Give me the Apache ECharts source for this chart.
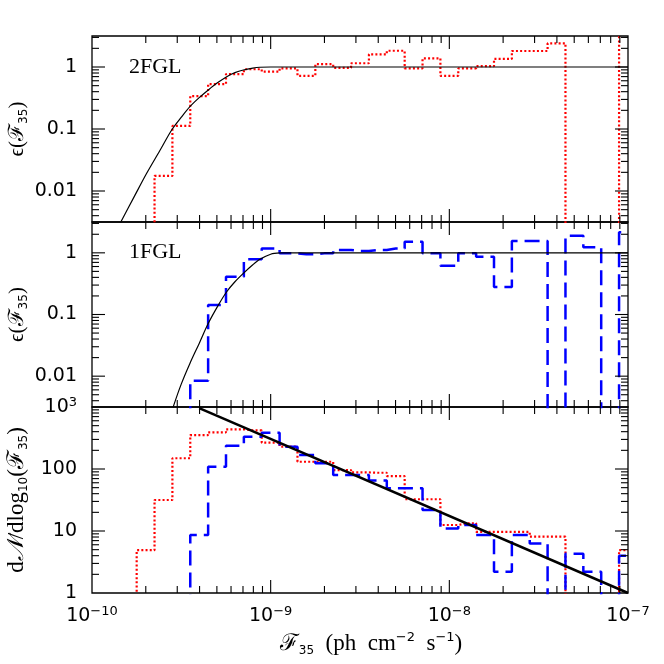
<!DOCTYPE html>
<html><head><meta charset="utf-8">
<script src="https://cdn.jsdelivr.net/npm/echarts@6/dist/echarts.min.js"></script>
<style>html,body{margin:0;padding:0;background:#fff}#c{width:664px;height:664px}</style>
</head><body><div id="c"></div>
<script>
// ---- data ----
// bin centres: log10 of flux F35 (ph cm^-2 s^-1), bins 0.1 dex wide
const logFluxBins = [-9.8,-9.7,-9.6,-9.5,-9.4,-9.3,-9.2,-9.1,-9.0,-8.9,-8.8,-8.7,-8.6,-8.5,-8.4,-8.3,-8.2,-8.1,-8.0,-7.9,-7.8,-7.7,-7.6,-7.5,-7.4,-7.3,-7.2,-7.1,-7.0];
// detection efficiency histograms
const eff2FGL = [0,0,0.0175,0.112,0.34,0.53,0.77,0.92,0.84,0.95,0.72,1.11,0.97,1.15,1.60,1.83,0.95,1.38,0.72,0.95,1.03,1.35,1.81,1.81,2.41,0,0,0,5];
const eff1FGL = [0,0,0,0,0.0084,0.143,0.41,0.785,1.18,0.98,0.95,0.98,1.11,1.07,1.11,1.18,1.51,0.98,0.62,0.98,0.86,0.28,1.55,1.55,0,1.89,1.23,0,2.15];
// source counts dN/dlog10(F35)
const counts2FGL = [0,4.9,31.6,149,353,391,437,420,266,229,131,131,96,88,87,77,32.5,32.5,12.5,13.3,9.7,9.7,9.7,8.1,8.1,0,0,0,4.9];
const counts1FGL = [0,0,0,0,8.6,109,238,332,385,229,168,124,80,80,65,49,49,21.8,11,12.5,8.6,2.2,8.6,6.3,0,4.3,2.2,0,4];
// smooth efficiency model curves
const model2FGL_logFlux = [-9.9,-9.838,-9.76,-9.694,-9.62,-9.554,-9.5,-9.452,-9.4,-9.349,-9.3,-9.246,-9.2,-9.153,-9.1,-9.06,-9.0,-8.9,-7.0];
const model2FGL_eff     = [0.0015,0.0032,0.0085,0.0193,0.045,0.0964,0.155,0.229,0.32,0.426,0.55,0.698,0.81,0.895,0.96,0.99,1.0,1.0,1.0];
const model1FGL_logFlux = [-9.6,-9.545,-9.5,-9.452,-9.4,-9.349,-9.293,-9.246,-9.2,-9.153,-9.1,-9.06,-9.0,-8.947,-8.9,-7.0];
const model1FGL_eff     = [0.001,0.0032,0.0075,0.0161,0.034,0.072,0.142,0.234,0.34,0.465,0.64,0.785,0.95,0.995,1.0,1.0];
// power-law fit to counts
const fit_logFlux = [-9.4,-7.0];
const fit_counts  = [960,1.0];
// axis ticks
const xTickExps = [-10,-9,-8,-7];
const effTicks = [0.01,0.1,1];
const effTickLabels = ['0.01','0.1','1'];
const countTicks = [1,10,100,1000];
const countTickLabels = ['1','10','100','{b|10}{s|3}'];
const panelTags = ['2FGL','1FGL'];

// ---- build ----
const L10 = Math.log10;
const FLOOR = 1e-6;
const hist = (vals) => logFluxBins.map((x,i)=>[x, L10(Math.max(vals[i],FLOOR))]);
const curve = (xs, ys) => xs.map((x,i)=>[x, L10(ys[i])]);

const sans = "'DejaVu Sans', sans-serif";
const serif = "'Liberation Serif','DejaVu Serif',serif";

const gridDefs = [
  {left:92, right:36, top:36, height:186},
  {left:92, right:36, top:222, height:185},
  {left:92, right:36, top:407, height:186}
];
const yRanges = [[-2.5,0.5,0.5],[-2.5,0.5,0.5],[0,3,1]];

function minorList(nFrom, nTo, lo, hi){
  const out=[];
  for(let n=nFrom;n<=nTo;n++) for(let k=2;k<=9;k++){const v=n+L10(k); if(v>lo+1e-9 && v<hi-1e-9) out.push(v);}
  return out;
}
function tickData(gi){
  const [ylo,yhi] = yRanges[gi];
  const d=[];
  minorList(-10,-8,-10,-7).forEach(v=>d.push([v, ylo, 0, 7]));
  xTickExps.forEach(v=>{ if(v>-10 && v<-7) d.push([v, ylo, 0, 13]); });
  minorList(Math.floor(ylo)-1, Math.ceil(yhi), ylo, yhi).forEach(v=>d.push([-10, v, 1, 7]));
  for(let v=Math.ceil(ylo); v<=Math.floor(yhi); v++){ if(v>ylo && v<yhi) d.push([-10, v, 1, 13]); }
  return d;
}
function tickRender(params, api){
  const cs = params.coordSys;
  const p = api.coord([api.value(0), api.value(1)]);
  const kind = api.value(2), len = api.value(3);
  const st = {stroke:'#000', lineWidth:1.1};
  if(kind===0){
    const x=p[0], b=cs.y+cs.height, t=cs.y;
    return {type:'group', children:[
      {type:'line', shape:{x1:x,y1:b,x2:x,y2:b-len}, style:st},
      {type:'line', shape:{x1:x,y1:t,x2:x,y2:t+len}, style:st}]};
  } else {
    const y=p[1], l=cs.x, r=cs.x+cs.width;
    return {type:'group', children:[
      {type:'line', shape:{x1:l,y1:y,x2:l+len,y2:y}, style:st},
      {type:'line', shape:{x1:r,y1:y,x2:r-len,y2:y}, style:st}]};
  }
}

function nameStyleOf(fs, pad){
  return {fontFamily:serif, fontSize:fs, color:'#000', lineHeight:26, padding:pad||0, rich:{
    sub:{fontSize:12, fontFamily:sans, verticalAlign:'bottom', lineHeight:10, color:'#000'},
    sup:{fontSize:13, fontFamily:sans, verticalAlign:'top', lineHeight:14, color:'#000'},
    cal:{fontSize:fs, fontFamily:serif, fontStyle:'italic', color:'#000'}}};
}

const xAxes = gridDefs.map((g,i)=>({
  type:'value', gridIndex:i, min:-10, max:-7, interval:1,
  axisLine:{show:false}, axisTick:{show:false}, splitLine:{show:false},
  axisLabel:{show:i===2, margin:12, showMinLabel:true, showMaxLabel:true,
    formatter:(v)=>'{b|10}{s|−'+Math.abs(Math.round(v))+'}',
    rich:{b:{fontSize:19, fontFamily:sans, color:'#000', lineHeight:22}, s:{fontSize:13, fontFamily:sans, color:'#000', verticalAlign:'top', lineHeight:14}}},
  name: i===2 ? 'ℱ{sub|35}  (ph  cm{sup|−2}  s{sup|−1})' : '',
  nameLocation:'middle', nameGap:38, nameMoveOverlap:false, nameTextStyle:nameStyleOf(23, [0,0,0,22])
}));

function effFmt(v){
  for(let k=0;k<effTicks.length;k++) if(Math.abs(v-L10(effTicks[k]))<1e-6) return effTickLabels[k];
  return '';
}
function cntFmt(v){
  for(let k=0;k<countTicks.length;k++) if(Math.abs(v-L10(countTicks[k]))<1e-6) return countTickLabels[k];
  return '';
}
const yAxes = gridDefs.map((g,i)=>({
  type:'value', gridIndex:i, min:yRanges[i][0], max:yRanges[i][1], interval:yRanges[i][2],
  axisLine:{show:false}, axisTick:{show:false}, splitLine:{show:false},
  axisLabel:{margin:15, showMinLabel:true, showMaxLabel:true, fontSize:19, fontFamily:sans, color:'#000',
    formatter: i<2 ? effFmt : cntFmt,
    rich:{b:{fontSize:19, fontFamily:sans, color:'#000', lineHeight:22}, s:{fontSize:13, fontFamily:sans, color:'#000', verticalAlign:'top', lineHeight:14}}},
  name: i<2 ? 'ϵ(ℱ{sub|35})' : 'd{cal|𝒩}/dlog{sub|10}(ℱ{sub|35})',
  nameLocation:'middle', nameRotate:90, nameGap:62, nameMoveOverlap:false, nameTextStyle:nameStyleOf(i<2 ? 21 : 23)
}));

const redStyle = {color:'#ff0000', width:2.2, type:[2,2.2]};
const blueStyle = {color:'#0000ff', width:2.5, type:[15,7]};
const base = {type:'line', symbol:'none', showSymbol:false, clip:true, silent:true};

const series = [
  Object.assign({}, base, {xAxisIndex:0, yAxisIndex:0, step:'middle', data:hist(eff2FGL), lineStyle:redStyle}),
  Object.assign({}, base, {xAxisIndex:0, yAxisIndex:0, smooth:0.3, data:curve(model2FGL_logFlux, model2FGL_eff), lineStyle:{color:'#000', width:1.2}}),
  Object.assign({}, base, {xAxisIndex:1, yAxisIndex:1, step:'middle', data:hist(eff1FGL), lineStyle:blueStyle}),
  Object.assign({}, base, {xAxisIndex:1, yAxisIndex:1, smooth:0.3, data:curve(model1FGL_logFlux, model1FGL_eff), lineStyle:{color:'#000', width:1.2}}),
  Object.assign({}, base, {xAxisIndex:2, yAxisIndex:2, step:'middle', data:hist(counts2FGL), lineStyle:redStyle}),
  Object.assign({}, base, {xAxisIndex:2, yAxisIndex:2, step:'middle', data:hist(counts1FGL), lineStyle:blueStyle}),
  Object.assign({}, base, {xAxisIndex:2, yAxisIndex:2, data:curve(fit_logFlux, fit_counts), lineStyle:{color:'#000', width:2.5}})
];
[0,1,2].forEach(i=>series.push({type:'custom', xAxisIndex:i, yAxisIndex:i, silent:true, renderItem:tickRender, data:tickData(i), z:5}));

const chart = echarts.init(document.getElementById('c'), null, {renderer:'canvas'});
chart.setOption({
  animation:false,
  backgroundColor:'#fff',
  grid: gridDefs.map(g=>Object.assign({show:true, borderColor:'#000', borderWidth:1.3, backgroundColor:'transparent', containLabel:false, outerBoundsMode:'none'}, g)),
  xAxis:xAxes, yAxis:yAxes, series:series,
  graphic: panelTags.map((t,i)=>({type:'text', left:129, top: i===0 ? 56 : 241,
    style:{text:t, fontFamily:serif, fontSize:22, fill:'#000'}}))
});
</script></body></html>
